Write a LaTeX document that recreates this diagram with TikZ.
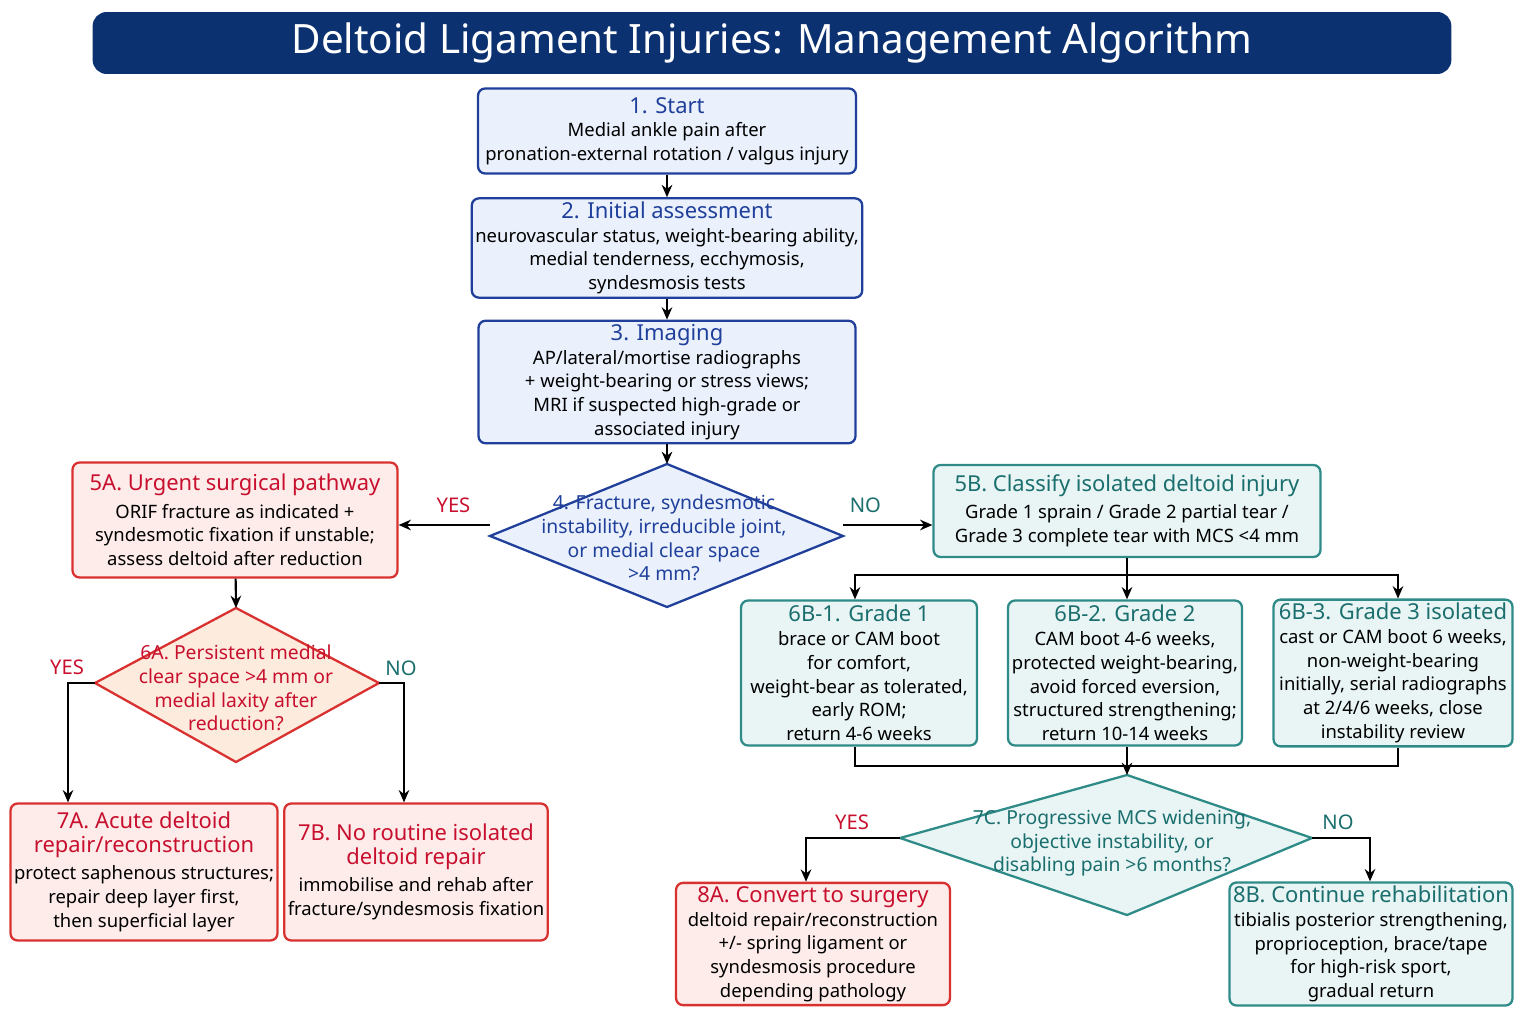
\documentclass[tikz,border=0pt]{standalone}
\usepackage{fontspec}
\setmainfont{Noto Sans}
\usetikzlibrary{arrows.meta}
\definecolor{navy}{HTML}{0B3170}
\definecolor{bblue}{HTML}{1F3F9A}
\definecolor{fblue}{HTML}{EAF1FD}
\definecolor{bred}{HTML}{D93030}
\definecolor{fred}{HTML}{FDECEA}
\definecolor{tred}{HTML}{C8102E}
\definecolor{forange}{HTML}{FDEBDD}
\definecolor{bteal}{HTML}{2E8B88}
\definecolor{fteal}{HTML}{E8F5F4}
\definecolor{tteal}{HTML}{1B6E6E}
\newcommand\headblue{\fontsize{12.5}{15}\selectfont\bfseries\color{bblue}}
\newcommand\headred{\fontsize{12.5}{15}\selectfont\bfseries\color{tred}}
\newcommand\headteal{\fontsize{12.5}{15}\selectfont\bfseries\color{tteal}}

\begin{document}
\begin{tikzpicture}[x=0.02cm,y=-0.02cm,
    box/.style={rectangle,rounded corners=4pt,line width=1.3pt,align=center,
        font=\fontsize{10.5}{13.5}\selectfont,inner sep=2pt},
    bluebox/.style={box,draw=bblue,fill=fblue},
    redbox/.style={box,draw=bred,fill=fred},
    tealbox/.style={box,draw=bteal,fill=fteal},
    arr/.style={-{Stealth[length=7pt,width=6pt]},line width=1.2pt},
    yes/.style={font=\fontsize{11.5}{14}\selectfont\bfseries,text=tred},
    no/.style={font=\fontsize{11.5}{14}\selectfont\bfseries,text=tteal},
]
    \useasboundingbox (0,0) rectangle (1536,1024);
    % title
    \node[fill=navy,rounded corners=8pt,minimum width=27.18cm,minimum height=1.24cm,
        text=white,font=\fontsize{23}{27}\selectfont\bfseries] (title) at (772,43)
        {Deltoid Ligament Injuries: Management Algorithm};

    % main column
    \node[bluebox,minimum width=7.56cm,minimum height=1.7cm] (n1) at (667,131)
        {{\headblue 1. Start}\\Medial ankle pain after\\pronation-external rotation / valgus injury};
    \node[bluebox,minimum width=7.56cm,minimum height=1.98cm] (n2) at (667,248)
        {{\headblue 2. Initial assessment}\\neurovascular status, weight-bearing ability,\\medial tenderness, ecchymosis,\\syndesmosis tests};
    \node[bluebox,minimum width=7.54cm,minimum height=2.36cm] (n3) at (667,382)
        {{\headblue 3. Imaging}\\AP/lateral/mortise radiographs\\+ weight-bearing or stress views;\\MRI if suspected high-grade or\\associated injury};

    % decision 4
    \draw[line width=1.3pt,draw=bblue,fill=fblue] (490,536) -- (667,464) -- (843,536) -- (667,607) -- cycle;
    \coordinate (d4n) at (667,464);
    \coordinate (d4w) at (490,525);
    \coordinate (d4e) at (843,525);
    \node[align=center,text=bblue,font=\fontsize{11}{13.5}\selectfont\bfseries] (d4) at (664,538)
        {4. Fracture, syndesmotic\\instability, irreducible joint,\\or medial clear space\\>4 mm?};

    \node[redbox,minimum width=6.5cm,minimum height=2.3cm] (n5a) at (235,520)
        {{\headred 5A. Urgent surgical pathway}\\[2pt]ORIF fracture as indicated +\\syndesmotic fixation if unstable;\\assess deltoid after reduction};
    \node[tealbox,minimum width=7.74cm,minimum height=1.84cm] (n5b) at (1127,511)
        {{\headteal 5B. Classify isolated deltoid injury}\\[2pt]Grade 1 sprain / Grade 2 partial tear /\\Grade 3 complete tear with MCS <4 mm};

    % decision 6A
    \draw[line width=1.3pt,draw=bred,fill=forange] (95,683) -- (236,608) -- (379,683) -- (236,762) -- cycle;
    \coordinate (d6n) at (236,608);
    \coordinate (d6w) at (95,683);
    \coordinate (d6e) at (379,683);
    \node[align=center,text=tred,font=\fontsize{11}{13.5}\selectfont\bfseries] (d6) at (236,688)
        {6A. Persistent medial\\clear space >4 mm or\\medial laxity after\\reduction?};

    \node[redbox,minimum width=4.94cm,minimum height=2.74cm] (n7a) at (144,872)
        {{\headred 7A. Acute deltoid}\\{\headred repair/reconstruction}\\[2pt]protect saphenous structures;\\repair deep layer first,\\then superficial layer};
    \node[redbox,minimum width=4.74cm,minimum height=2.74cm] (n7b) at (416,872)
        {{\headred 7B. No routine isolated}\\{\headred deltoid repair}\\[2pt]immobilise and rehab after\\fracture/syndesmosis fixation};

    % grades
    \node[tealbox,minimum width=4.72cm,minimum height=2.9cm] (g1) at (859,673)
        {{\headteal 6B-1. Grade 1}\\brace or CAM boot\\for comfort,\\weight-bear as tolerated,\\early ROM;\\return 4-6 weeks};
    \node[tealbox,minimum width=4.68cm,minimum height=2.9cm] (g2) at (1125,673)
        {{\headteal 6B-2. Grade 2}\\CAM boot 4-6 weeks,\\protected weight-bearing,\\avoid forced eversion,\\structured strengthening;\\return 10-14 weeks};
    \node[tealbox,minimum width=4.78cm,minimum height=2.9cm] (g3) at (1393,673)
        {{\headteal 6B-3. Grade 3 isolated}\\cast or CAM boot 6 weeks,\\non-weight-bearing\\initially, serial radiographs\\at 2/4/6 weeks, close\\instability review};

    % decision 7C
    \draw[line width=1.3pt,draw=bteal,fill=fteal] (900,838) -- (1127,775) -- (1312,838) -- (1127,915) -- cycle;
    \coordinate (d7n) at (1127,775);
    \coordinate (d7w) at (900,838);
    \coordinate (d7e) at (1312,838);
    \node[align=center,text=tteal,font=\fontsize{11}{13.5}\selectfont\bfseries] (d7) at (1112,843)
        {7C. Progressive MCS widening,\\objective instability, or\\disabling pain >6 months?};

    \node[redbox,minimum width=5.48cm,minimum height=2.42cm] (n8a) at (813,944)
        {{\headred 8A. Convert to surgery}\\deltoid repair/reconstruction\\+/- spring ligament or\\syndesmosis procedure\\depending pathology};
    \node[tealbox,minimum width=5.36cm,minimum height=2.4cm] (n8b) at (1371,944)
        {{\headteal 8B. Continue rehabilitation}\\tibialis posterior strengthening,\\proprioception, brace/tape\\for high-risk sport,\\gradual return};

    % connectors
    \draw[arr] (n1) -- (n2);
    \draw[arr] (n2) -- (n3);
    \draw[arr] (n3) -- (d4n);
    \draw[arr] (d4w) -- (n5a.east |- d4w) node[yes,pos=0.4,above=3pt] {YES};
    \draw[arr] (d4e) -- (n5b.west |- d4e) node[no,pos=0.25,above=3pt] {NO};
    \draw[arr] (n5a) -- (d6n);
    \draw[arr] (d6w) -| (n7a.north -| 68,0);
    \draw[arr] (d6e) -| (n7b.north -| 404,0);
    \node[yes] (y6) at (67,667) {YES};
    \node[no] (no6) at (401,668) {NO};
    \coordinate (bar) at (1127,575);
    \draw[line width=1.2pt] (n5b) -- (bar);
    \draw[arr] (bar) -| (g1.north -| 855,0);
    \draw[arr] (bar) -- (g2.north -| bar);
    \draw[arr] (bar) -| (g3.north -| 1398,0);
    \coordinate (join) at (1127,766);
    \draw[line width=1.2pt] (g1.south -| 855,0) |- (join);
    \draw[line width=1.2pt] (g3.south -| 1398,0) |- (join);
    \draw[line width=1.2pt] (g2.south -| join) -- (join);
    \draw[arr] (join) -- (d7n);
    \draw[arr] (d7w) -| (n8a.north -| 806,0);
    \draw[arr] (d7e) -| (n8b.north -| 1370,0);
    \node[yes] (y7) at (852,822) {YES};
    \node[no] (no7) at (1338,822) {NO};
\end{tikzpicture}
\end{document}
